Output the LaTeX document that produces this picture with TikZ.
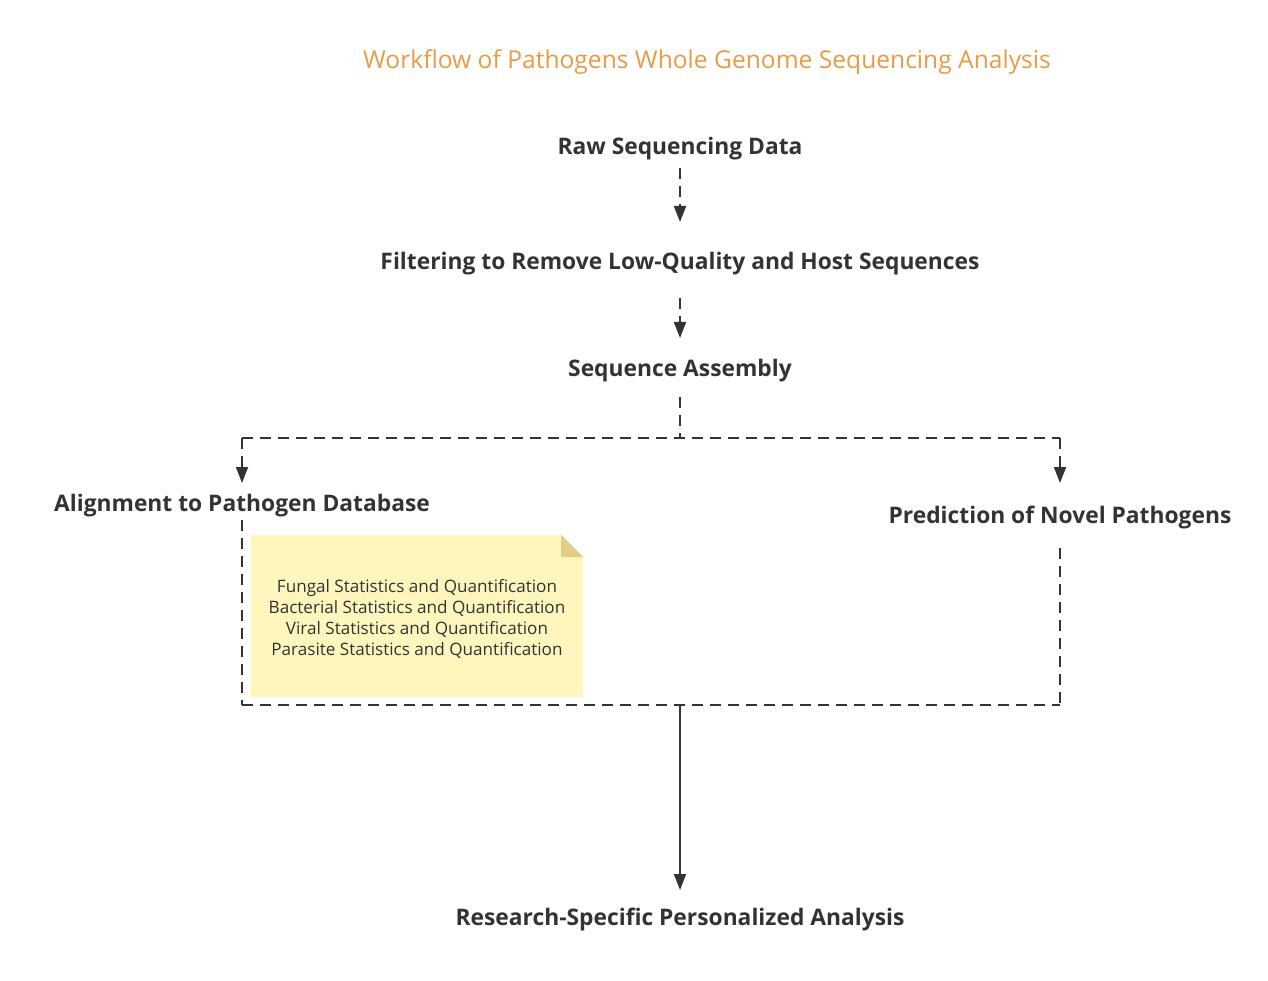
\documentclass[tikz,border=0pt]{standalone}
\usepackage{fontspec}
\setmainfont{Open Sans}
\usetikzlibrary{arrows.meta}
\definecolor{ink}{HTML}{333333}
\definecolor{titlecol}{HTML}{E99A45}
\definecolor{notefill}{HTML}{FFF6BE}
\definecolor{notefold}{HTML}{E3CD84}
\tikzset{
  x=1pt,y=-1pt,
  stepnode/.style={inner sep=0pt,text=ink,font=\fontsize{22.8}{27}\selectfont\bfseries},
  conn/.style={draw=ink,line width=1.8pt,dash pattern=on 11pt off 7pt},
  solidconn/.style={draw=ink,line width=1.8pt},
  tip/.style={-{Triangle[width=12pt,length=16pt]}},
}
\begin{document}
\begin{tikzpicture}
\useasboundingbox (0,0) rectangle (1268,981);
\node[inner sep=0pt,text=titlecol,font=\fontsize{24.6}{29}\selectfont] (title) at (707,62) {Workflow of Pathogens Whole Genome Sequencing Analysis};
\node[stepnode] (raw) at (680,149) {Raw Sequencing Data};
\node[stepnode] (filter) at (680,264) {Filtering to Remove Low-Quality and Host Sequences};
\node[stepnode] (asm) at (680,371) {Sequence Assembly};
\node[stepnode] (align) at (242,506) {Alignment to Pathogen Database};
\node[stepnode] (pred) at (1060,518) {Prediction of Novel Pathogens};
\node[stepnode] (res) at (680,920) {Research-Specific Personalized Analysis};
\coordinate (split) at (680,438);
\coordinate (splitL) at (242,438);
\coordinate (splitR) at (1060,438);
\coordinate (join) at (680,705);
\coordinate (joinL) at (242,705);
\coordinate (joinR) at (1060,705);
% note
\fill[notefill] (251,535) -- (561,535) -- (583,557) -- (583,697) -- (251,697) -- cycle;
\fill[notefold] (561,535) -- (583,557) -- (561,557) -- cycle;
\node[inner sep=0pt,text=ink,align=center,font=\fontsize{17.1}{21}\selectfont] (note) at (417,619) {Fungal Statistics and Quantification\\Bacterial Statistics and Quantification\\Viral Statistics and Quantification\\Parasite Statistics and Quantification};
% connectors
\draw[conn,tip,shorten <=19pt,shorten >=42pt] (raw.center) -- (filter.center);
\draw[conn,tip,shorten <=34pt,shorten >=33pt] (filter.center) -- (asm.center);
\draw[conn,shorten <=26pt] (asm.center) -- (split);
\draw[conn] (splitL) -- (splitR);
\draw[conn,tip,shorten >=23pt] (splitL) -- (align.center);
\draw[conn,tip,shorten >=35pt] (splitR) -- (pred.center);
\draw[conn,shorten <=14pt] (align.center) -- (joinL);
\draw[conn,shorten <=30pt] (pred.center) -- (joinR);
\draw[conn] (joinL) -- (joinR);
\draw[solidconn,tip,shorten >=30pt] (join) -- (res.center);
\end{tikzpicture}
\end{document}
